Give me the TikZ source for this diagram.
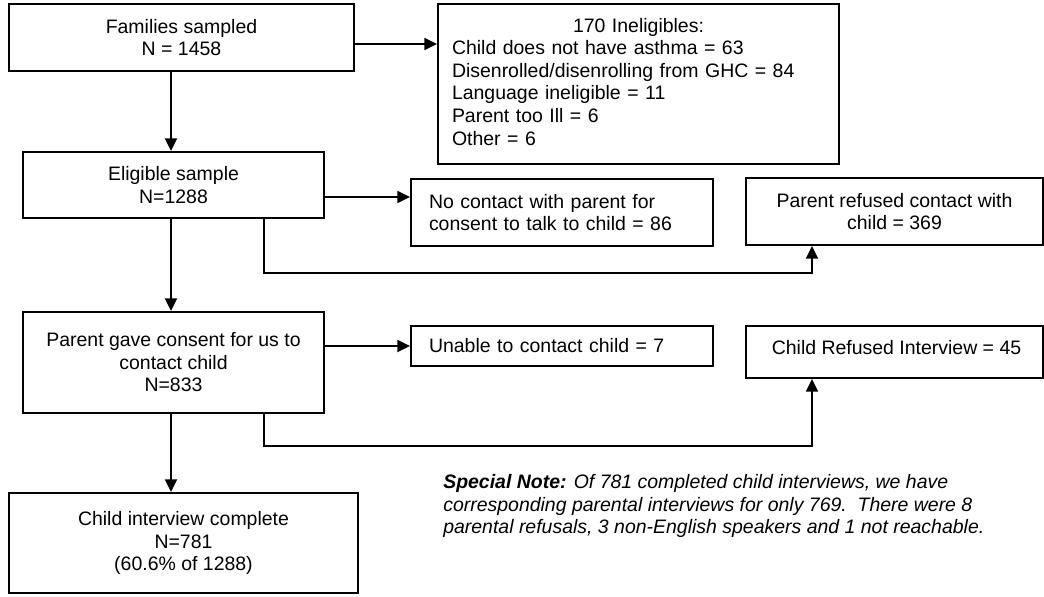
\documentclass[tikz,border=0pt]{standalone}
\usepackage{fontspec}
\setmainfont{Liberation Sans}
\usetikzlibrary{arrows.meta}
\def\px{0.75pt}

\begin{document}
\begin{tikzpicture}[x=0.75pt,y=-0.75pt,
  font=\fontsize{14.6pt}{16.9pt}\selectfont,
  box/.style={draw,line width=1.5pt,rectangle,inner sep=0pt,align=center},
  leftbox/.style={box,align=left,text width=266*\px},
  arr/.style={line width=1.5pt,-{Triangle[length=9.5pt,width=9pt]}}]
  \useasboundingbox (0,0) rectangle (1044,596);

  % helper points for the connectors
  \coordinate (spine) at (171,0);
  \coordinate (split) at (264,0);
  \coordinate (jointA) at (812,273);
  \coordinate (jointB) at (812,446);

  % left column
  \node[box,minimum width=345*\px,minimum height=67*\px] (sampled) at (181.5,37.5) {Families sampled\\N = 1458};
  \node[box,minimum width=301*\px,minimum height=66*\px] (eligible) at (173.5,185) {Eligible sample\\N=1288};
  \node[box,minimum width=301*\px,minimum height=101*\px] (consent) at (173.5,362.5) {Parent gave consent for us to\\contact child\\N=833};
  \node[box,minimum width=349*\px,minimum height=100*\px] (complete) at (183.5,543) {Child interview complete\\N=781\\(60.6\% of 1288)};

  % exclusions
  \node[box,minimum width=401*\px,minimum height=160*\px] (inelig) at (638.5,84) {};
  \node[anchor=north,align=left,inner sep=0pt,text width=373*\px] (inelig-txt) at (638.5,18)
    {\makebox[\linewidth]{170 Ineligibles:}\\
     Child does not have asthma = 63\\
     Disenrolled/disenrolling from GHC = 84\\
     Language ineligible = 11\\
     Parent too Ill = 6\\
     Other = 6};
  \node[leftbox,minimum width=302*\px,minimum height=67*\px] (nocontact) at (562,212.5) {No contact with parent for\\consent to talk to child = 86};
  \node[box,minimum width=297*\px,minimum height=67*\px] (refused) at (894.5,211.5) {Parent refused contact with\\child = 369};
  \node[leftbox,minimum width=302*\px,minimum height=40*\px] (unable) at (562,346) {Unable to contact child = 7};
  \node[box,minimum width=297*\px,minimum height=52*\px] (refint) at (894.5,352) {};
  \node[anchor=base,inner sep=0pt] (refint-txt) at (896.5,354) {Child Refused Interview = 45};

  % note
  \node[anchor=north west,align=left,inner sep=0pt,font=\fontsize{14.6pt}{17pt}\selectfont\itshape] (note) at (443,474)
    {\textbf{Special Note:} Of 781 completed child interviews, we have\\
     corresponding parental interviews for only 769.\ \ There were 8\\
     parental refusals, 3 non-English speakers and 1 not reachable.};

  % connectors
  \draw[arr] (sampled.south -| spine) -- (eligible.north -| spine);
  \draw[arr] (eligible.south -| spine) -- (consent.north -| spine);
  \draw[arr] (consent.south -| spine) -- (complete.north -| spine);
  \draw[arr] (sampled.east |- 0,44) -- (inelig.west |- 0,44);
  \draw[arr] (eligible.east |- 0,197) -- (nocontact.west |- 0,197);
  \draw[arr] (consent.east |- unable.west) -- (unable.west);
  \draw[arr] (eligible.south -| split) |- (jointA) -- (refused.south -| jointA);
  \draw[arr] (consent.south -| split) |- (jointB) -- (refint.south -| jointB);
\end{tikzpicture}
\end{document}
